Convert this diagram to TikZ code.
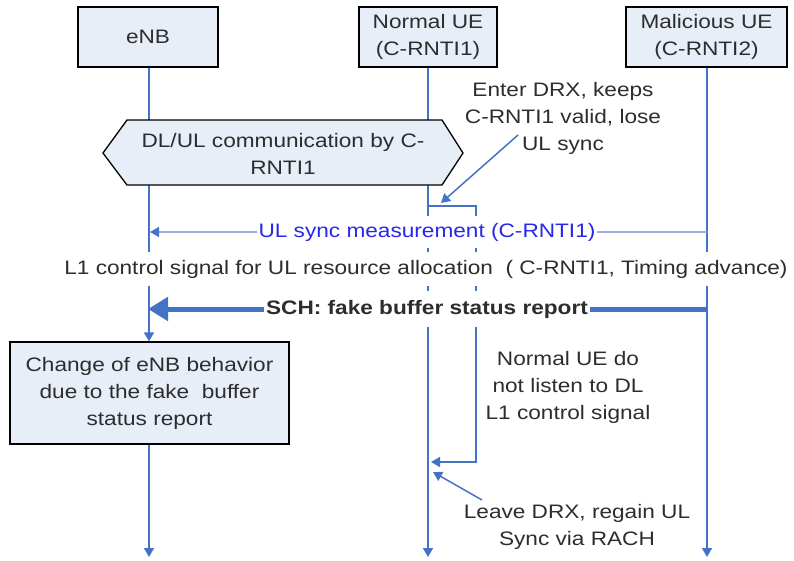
\documentclass[tikz,border=0pt]{standalone}
\usepackage{fontspec}
\setmainfont[FakeStretch=1.16]{Liberation Sans}
\usetikzlibrary{arrows.meta}
\definecolor{lifeblue}{RGB}{68,114,196}
\definecolor{boxfill}{RGB}{232,238,248}
\definecolor{msgblue}{RGB}{40,40,235}
\definecolor{paleblue}{RGB}{150,175,220}
\definecolor{txt}{RGB}{45,45,45}
\begin{document}
\begin{tikzpicture}[x=1pt,y=-1pt,
  every node/.style={font=\fontsize{19.5}{27}\selectfont, text=txt},
  actor/.style={draw=black, line width=1.3pt, fill=boxfill, minimum height=60pt, align=center, inner sep=0pt},
  life/.style={draw=lifeblue, line width=1.6pt},
  lifearrow/.style={life, -{Triangle[width=10pt,length=9pt]}},
  thinarrow/.style={draw=lifeblue, line width=1.5pt, -{Triangle[width=10pt,length=9pt]}},
  label/.style={align=center, inner sep=0pt},
  bglabel/.style={fill=white, inner xsep=2pt}
]
\useasboundingbox (0,0) rectangle (794,560);

% actors
\node[actor, minimum width=140pt] (enb) at (148,37) {eNB};
\node[actor, minimum width=138pt] (nue) at (428,37) {Normal UE\\(C-RNTI1)};
\node[actor, minimum width=161pt] (mue) at (706.5,37) {Malicious UE\\(C-RNTI2)};
\node[actor, minimum width=279pt, minimum height=102pt] (chg) at (149.5,393) {Change of eNB behavior\\due to the fake\ \ buffer\\status report};

% lifeline end points
\coordinate (enbEnd) at (149,557);
\coordinate (nueEnd) at (428,557);
\coordinate (mueEnd) at (707,557);

% lifelines
\draw[lifearrow] (enb.south -| 149,0) -- (chg.north -| 149,0);
\draw[lifearrow] (chg.south -| 149,0) -- (enbEnd);
\draw[lifearrow] (nue.south) -- (nueEnd);
\draw[lifearrow] (mue.south -| 707,0) -- (mueEnd);

% hexagon
\draw[black, line width=1.3pt, fill=boxfill]
  (103,153) -- (127,120) -- (442,120) -- (463,153) -- (442,185) -- (127,185) -- cycle;
\node[label] (hex) at (283,154) {DL/UL communication by C-\\RNTI1};

% DRX bracket
\coordinate (b1) at (428,206);
\coordinate (b2) at (431,462);
\coordinate (bc1) at (476,206);
\coordinate (bc2) at (476,462);
\draw[thinarrow] (b1) -- (bc1) -- (bc2) -- (b2);

% messages
\coordinate (m1) at (707,232);
\coordinate (e1) at (150,232);
\draw[draw=paleblue, line width=1.5pt, -{Triangle[width=10pt,length=9pt,color=lifeblue]}] (m1) -- (e1);
\coordinate (m2) at (707,309);
\coordinate (e2) at (148,309);
\draw[draw=lifeblue, line width=5pt, -{Triangle[width=23pt,length=20pt]}] (m2) -- (e2);

\node[label, bglabel, text=msgblue, inner ysep=7pt] (ul) at (427,232) {UL sync measurement (C-RNTI1)};
\node[label, bglabel, inner ysep=8pt] (l1) at (426,269) {L1 control signal for UL resource allocation\ \ ( C-RNTI1, Timing advance)};
\node[label, bglabel, inner ysep=9pt, font=\fontsize{19.5}{27}\selectfont\bfseries] (sch) at (427,309) {SCH: fake buffer status report};

% annotations
\node[label] (ann1) at (563,118) {Enter DRX, keeps\\C-RNTI1 valid, lose\\UL sync};
\coordinate (a1s) at (518,135);
\coordinate (a1e) at (441,203);
\draw[thinarrow] (a1s) -- (a1e);

\node[label] (ann2) at (568,387) {Normal UE do\\not listen to DL\\L1 control signal};

\node[label] (ann3) at (577,527) {Leave DRX, regain UL\\Sync via RACH};
\coordinate (a3s) at (482,500);
\coordinate (a3e) at (433,472);
\draw[thinarrow] (a3s) -- (a3e);
\end{tikzpicture}
\end{document}
